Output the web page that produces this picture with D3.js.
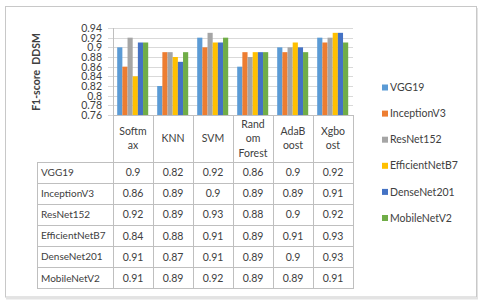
<!DOCTYPE html>
<html>
<head>
<meta charset="utf-8">
<script src="https://cdn.jsdelivr.net/npm/d3@7"></script>
<style>
  html, body { margin: 0; padding: 0; background: #fff; }
  svg { display: block; font-family: Lato, "Open Sans", sans-serif; }
</style>
</head>
<body>
<svg id="chart" width="480" height="304"></svg>
<script>
// ---- data ----
const categories = ["Softmax", "KNN", "SVM", "Random Forest", "AdaBoost", "Xgboost"];
const categoryLines = [["Softm", "ax"], ["KNN"], ["SVM"], ["Rand", "om", "Forest"], ["AdaB", "oost"], ["Xgbo", "ost"]];
const seriesNames = ["VGG19", "InceptionV3", "ResNet152", "EfficientNetB7", "DenseNet201", "MobileNetV2"];
const vgg19 = [0.9, 0.82, 0.92, 0.86, 0.9, 0.92];
const inceptionV3 = [0.86, 0.89, 0.9, 0.89, 0.89, 0.91];
const resNet152 = [0.92, 0.89, 0.93, 0.88, 0.9, 0.92];
const efficientNetB7 = [0.84, 0.88, 0.91, 0.89, 0.91, 0.93];
const denseNet201 = [0.91, 0.87, 0.91, 0.89, 0.9, 0.93];
const mobileNetV2 = [0.91, 0.89, 0.92, 0.89, 0.89, 0.91];
const yTicks = [0.76, 0.78, 0.8, 0.82, 0.84, 0.86, 0.88, 0.9, 0.92, 0.94];
const yTickLabels = ["0.76", "0.78", "0.8", "0.82", "0.84", "0.86", "0.88", "0.9", "0.92", "0.94"];
const yTitle = "F1-score  DDSM";
const colors = ["#5B9BD5", "#ED7D31", "#A5A5A5", "#FFC000", "#4472C4", "#70AD47"];

const seriesValues = [vgg19, inceptionV3, resNet152, efficientNetB7, denseNet201, mobileNetV2];

// ---- layout ----
const svg = d3.select("#chart");
const textColor = "#404040";
const gridColor = "#d9d9d9";
const tableColor = "#bfbfbf";

const plotL = 113, plotR = 353, plotT = 28, plotB = 115;
const tableL = 37, headerB = 162, rowH = 21.1;

// outer frame
svg.append("rect").attr("x", 5.5).attr("y", 6.5).attr("width", 471).attr("height", 290.5)
  .attr("fill", "#fff").attr("stroke", "#c8c8c8").attr("stroke-width", 1);
svg.append("line").attr("x1", 6).attr("x2", 478).attr("y1", 298.5).attr("y2", 298.5)
  .attr("stroke", "#e3e3e3").attr("stroke-width", 2);
svg.append("line").attr("x1", 477.5).attr("x2", 477.5).attr("y1", 8).attr("y2", 299)
  .attr("stroke", "#e3e3e3").attr("stroke-width", 1);

const y = d3.scaleLinear().domain([0.76, 0.94]).range([plotB, plotT]);
const x0 = d3.scaleBand().domain(categories).range([plotL, plotR]).padding(0);
const x1 = d3.scaleBand().domain(seriesNames).range([4.2, 35.2]).padding(0);

// gridlines + ticks via axis
const yAxis = d3.axisLeft(y).tickValues(yTicks)
  .tickFormat((d, i) => yTickLabels[i])
  .tickSize(-(plotR - plotL)).tickPadding(11);
const gy = svg.append("g").attr("transform", `translate(${plotL},0)`).call(yAxis);
gy.select(".domain").remove();
gy.selectAll(".tick line").attr("stroke", gridColor).attr("shape-rendering", "crispEdges");
gy.selectAll(".tick").append("line").attr("x1", -5).attr("x2", 0)
  .attr("stroke", gridColor).attr("shape-rendering", "crispEdges");
gy.selectAll(".tick text").attr("fill", textColor).attr("font-size", 10.5)
  .attr("font-family", "Lato, sans-serif");

// bars
const groups = svg.append("g").selectAll("g").data(categories).join("g")
  .attr("transform", d => `translate(${x0(d)},0)`);
groups.selectAll("rect").data((c, ci) => seriesNames.map((s, si) => ({ s, si, v: seriesValues[si][ci] })))
  .join("rect")
  .attr("x", d => x1(d.s))
  .attr("width", x1.bandwidth())
  .attr("y", d => y(d.v))
  .attr("height", d => y(0.76) - y(d.v))
  .attr("fill", d => colors[d.si]);

// y title
svg.append("text")
  .attr("transform", `translate(40,72) rotate(-90)`)
  .attr("text-anchor", "middle")
  .attr("font-weight", "bold").attr("font-size", 10.5)
  .attr("fill", textColor)
  .style("white-space", "pre")
  .text(yTitle);

// ---- data table ----
const tbl = svg.append("g");
const tableB = headerB + rowH * seriesNames.length;
const line = (x1_, y1_, x2_, y2_) => tbl.append("line")
  .attr("x1", x1_).attr("y1", y1_).attr("x2", x2_).attr("y2", y2_)
  .attr("stroke", tableColor).attr("stroke-width", 1).attr("shape-rendering", "crispEdges");

const bounds = categories.map(c => x0(c)).concat([plotR]);
bounds.forEach((bx, i) => line(bx, i === 0 ? plotT : plotB, bx, tableB));
line(plotL, plotB, plotR, plotB);
for (let r = 0; r <= seriesNames.length; r++) {
  line(tableL, headerB + r * rowH, plotR, headerB + r * rowH);
}
line(tableL, headerB, tableL, tableB);

// header labels
categoryLines.forEach((lines, ci) => {
  const cx = x0(categories[ci]) + x0.bandwidth() / 2;
  const cy = (plotB + headerB) / 2;
  const lh = 14.5;
  lines.forEach((t, li) => {
    tbl.append("text")
      .attr("x", cx)
      .attr("y", cy + (li - (lines.length - 1) / 2) * lh)
      .attr("dy", "0.35em")
      .attr("text-anchor", "middle")
      .attr("font-size", 10.5).attr("fill", textColor)
      .text(t);
  });
});

// row labels and values
seriesNames.forEach((s, si) => {
  const cy = headerB + si * rowH + rowH / 2;
  tbl.append("text").attr("x", tableL + 4).attr("y", cy).attr("dy", "0.35em")
    .attr("font-size", 10).attr("fill", textColor).text(s);
  seriesValues[si].forEach((v, ci) => {
    tbl.append("text")
      .attr("x", x0(categories[ci]) + x0.bandwidth() / 2).attr("y", cy).attr("dy", "0.35em")
      .attr("text-anchor", "middle").attr("font-size", 10.5).attr("fill", textColor)
      .text(String(v));
  });
});

// legend
const legY0 = 87.5, legStep = 26.1;
const leg = svg.append("g").selectAll("g").data(seriesNames).join("g")
  .attr("transform", (d, i) => `translate(382,${legY0 + i * legStep})`);
leg.append("rect").attr("x", 0).attr("y", -3).attr("width", 6).attr("height", 6)
  .attr("fill", (d, i) => colors[i]);
leg.append("text").attr("x", 8).attr("y", 0).attr("dy", "0.35em")
  .attr("font-size", 10.5).attr("fill", textColor).text(d => d);
</script>
</body>
</html>
